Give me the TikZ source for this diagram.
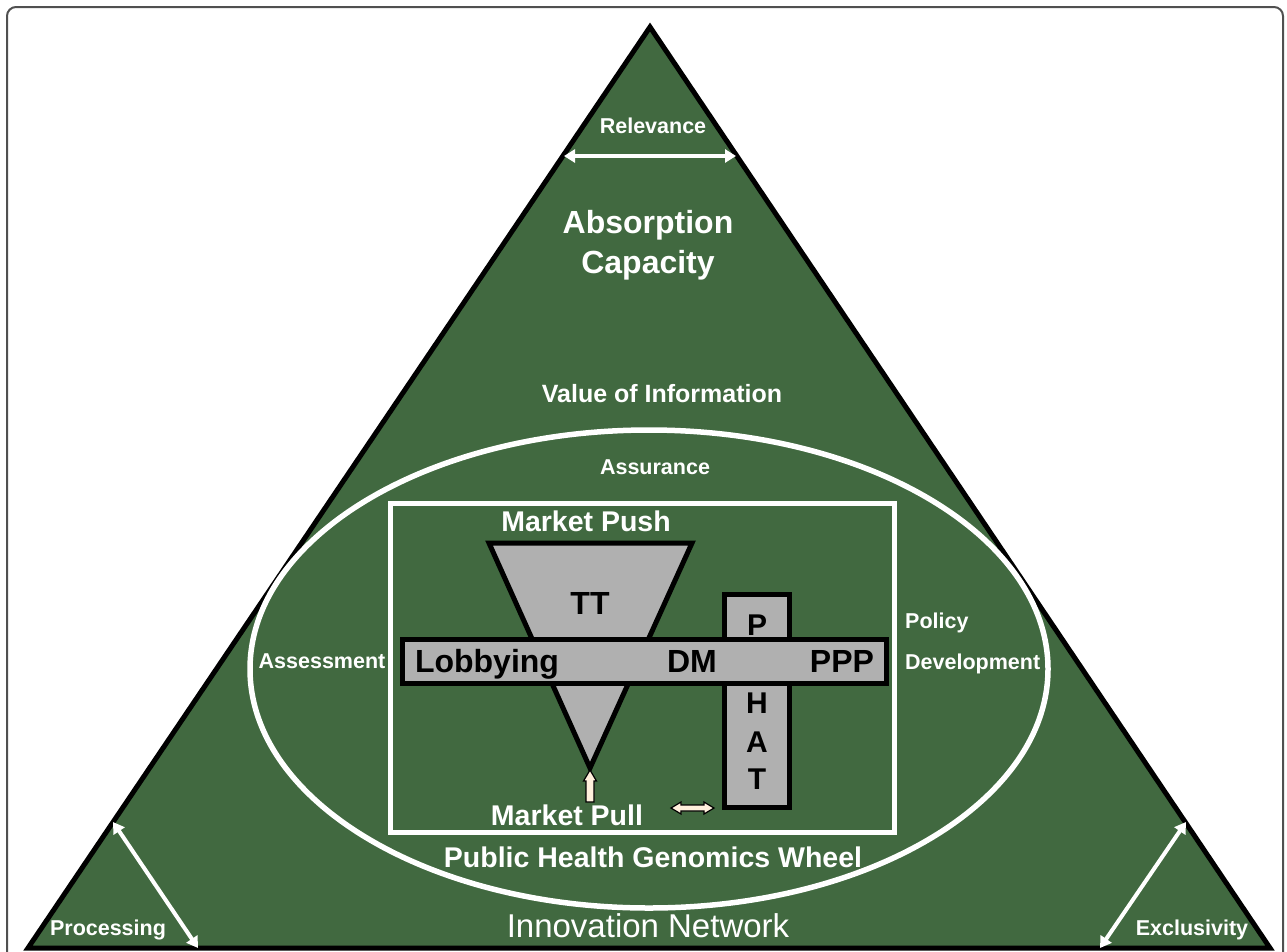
\documentclass[tikz,border=0pt]{standalone}
\usepackage{fontspec}
\setmainfont{Liberation Sans}
\usetikzlibrary{arrows.meta}
\definecolor{bggreen}{RGB}{65,105,64}
\definecolor{boxgray}{RGB}{176,176,176}
\definecolor{cream}{RGB}{255,240,220}
\definecolor{framegray}{RGB}{80,80,80}
\tikzset{
  lbl/.style={text=white, font=\fontsize{#1}{#1}\selectfont\bfseries, inner sep=0pt, anchor=base},
  blk/.style={text=black, font=\fontsize{#1}{#1}\selectfont\bfseries, inner sep=0pt, anchor=base},
  warrow/.style={white, line width=4pt, {Triangle[length=11pt,width=13pt]}-{Triangle[length=11pt,width=13pt]}},
  grayshape/.style={fill=boxgray, draw=black, line width=5pt, line join=miter},
  blockarrow/.style={fill=cream, draw=black, line width=1.2pt, line join=miter}
}
\begin{document}
\begin{tikzpicture}[x=1pt,y=-1pt]
\clip (0,0) rectangle (1287,951);
\useasboundingbox (0,0) rectangle (1287,951);
% frame
\draw[framegray, line width=2pt, rounded corners=9pt] (7,7) rectangle (1283,990);
% main triangle
\coordinate (apex) at (650,27);
\coordinate (bl) at (28,948);
\coordinate (br) at (1270,948);
\draw[fill=bggreen, draw=black, line width=5pt, line join=miter] (apex) -- (br) -- (bl) -- cycle;
% ellipse and rectangle
\draw[white, line width=5.5pt] (649,669) ellipse [x radius=399pt, y radius=239pt];
\draw[white, line width=5pt] (390,503) rectangle (894,832);
% inverted triangle
\coordinate (ttl) at (489,543);
\coordinate (ttr) at (692,543);
\coordinate (ttb) at (590,768);
\draw[grayshape] (ttl) -- (ttr) -- (ttb) -- cycle;
% vertical bar and horizontal bar
\draw[grayshape] (724,594) rectangle (789,807);
\draw[grayshape] (402,639) rectangle (886,683);
% texts in gray shapes
\node[blk=32] (tt) at (590,614.5) {TT};
\node[blk=32] (lob) at (487,672.5) {Lobbying};
\node[blk=32] (dm) at (692,672.5) {DM};
\node[blk=32] (ppp) at (842,672.5) {PPP};
\node[blk=30] (p) at (757,635) {P};
\node[blk=30] (h) at (757,713) {H};
\node[blk=30] (a) at (757,752) {A};
\node[blk=30] (t) at (757,789) {T};
% white labels
\node[lbl=21.5] (rel) at (653,133) {Relevance};
\node[lbl=32] (abs1) at (648,233.5) {Absorption};
\node[lbl=32] (abs2) at (648,273.5) {Capacity};
\node[lbl=25] (voi) at (662,402) {Value of Information};
\node[lbl=21.5] (ass) at (655,474.5) {Assurance};
\node[lbl=28.5] (push) at (586,531) {Market Push};
\node[lbl=21.5, anchor=base west] (pol1) at (905,628.5) {Policy};
\node[lbl=21.5, anchor=base west] (pol2) at (905,669.5) {Development};
\node[lbl=21.5] (asm) at (322,668.5) {Assessment};
\node[lbl=28.5] (pull) at (567,825) {Market Pull};
\node[lbl=28.5] (phg) at (653,867) {Public Health Genomics Wheel};
\node[text=white, font=\fontsize{33}{33}\selectfont, inner sep=0pt, anchor=base] (inn) at (648,937) {Innovation Network};
\node[lbl=21.5] (proc) at (108,935) {Processing};
\node[lbl=21.5] (excl) at (1192,935) {Exclusivity};
% white arrows
\coordinate (relL) at (564,156);
\coordinate (relR) at (736,156);
\draw[warrow] (relL) -- (relR);
\coordinate (procA) at (113,822);
\coordinate (procB) at (198,948);
\draw[warrow] (procA) -- (procB);
\coordinate (exA) at (1186,822);
\coordinate (exB) at (1100,948);
\draw[warrow] (exA) -- (exB);
% block arrows
\draw[blockarrow] (590,770) -- (596.5,781) -- (594,781) -- (594,802) -- (586,802) -- (586,781) -- (583.5,781) -- cycle;
\draw[blockarrow] (671,808) -- (681,802) -- (681,805) -- (704,805) -- (704,802) -- (714,808) -- (704,814) -- (704,811) -- (681,811) -- (681,814) -- cycle;
\end{tikzpicture}
\end{document}
